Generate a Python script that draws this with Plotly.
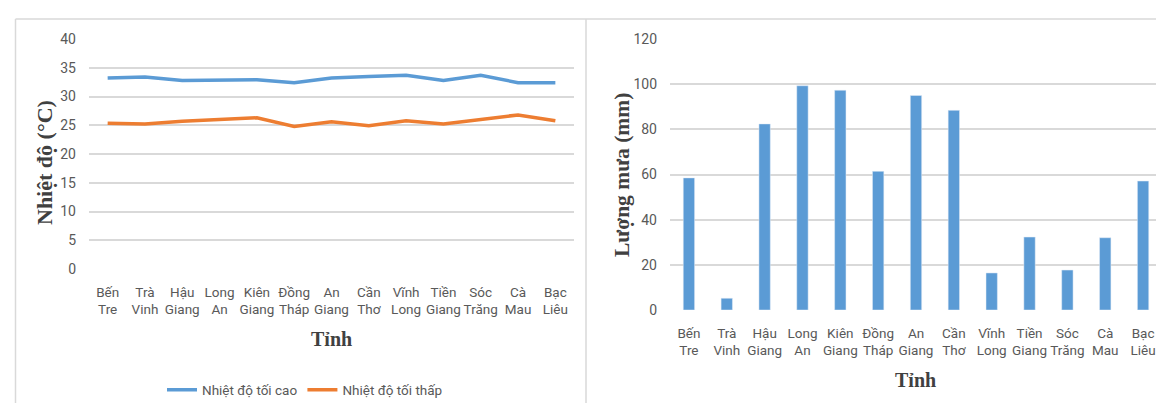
import plotly.graph_objects as go

W, H = 1164, 403

provinces = ["Bến<br>Tre", "Trà<br>Vinh", "Hậu<br>Giang", "Long<br>An", "Kiên<br>Giang",
             "Đồng<br>Tháp", "An<br>Giang", "Cần<br>Thơ", "Vĩnh<br>Long", "Tiền<br>Giang",
             "Sóc<br>Trăng", "Cà<br>Mau", "Bạc<br>Liêu"]
temp_max = [33.2, 33.4, 32.8, 32.8, 32.9, 32.4, 33.2, 33.5, 33.7, 32.8, 33.7, 32.4, 32.4]
temp_min = [25.35, 25.2, 25.7, 26.0, 26.3, 24.8, 25.6, 24.9, 25.8, 25.2, 26.0, 26.8, 25.8]
rainfall = [58.5, 5.2, 82.4, 99.3, 97.3, 61.4, 95.0, 88.4, 16.4, 32.3, 17.7, 32.0, 57.1]

blue = "#5B9BD5"
orange = "#ED7D31"
grid = "#D9D9D9"
tick_col = "#595959"
sans = "Roboto, Liberation Sans, sans-serif"
tick_font = dict(family=sans, size=13.5, color=tick_col)
ytick_font = dict(family=sans, size=14, color=tick_col)
serif = "Liberation Serif, Times New Roman, serif"
xtitle_font = dict(family=serif, size=20, color="#404040")

def px_x(x):
    return x / W

def px_y(y):
    return 1 - y / H

fig = go.Figure()

fig.add_trace(go.Scatter(x=provinces, y=temp_max, mode="lines", name="Nhiệt độ tối cao",
                         line=dict(color=blue, width=3.5), xaxis="x", yaxis="y"))
fig.add_trace(go.Scatter(x=provinces, y=temp_min, mode="lines", name="Nhiệt độ tối thấp",
                         line=dict(color=orange, width=3.5), xaxis="x", yaxis="y"))
fig.add_trace(go.Bar(x=provinces, y=rainfall, name="Lượng mưa", marker=dict(color=blue),
                     width=0.3, showlegend=False, xaxis="x2", yaxis="y2"))

fig.update_layout(
    width=W, height=H,
    margin=dict(l=0, r=0, t=0, b=0),
    paper_bgcolor="white", plot_bgcolor="white",
    xaxis=dict(domain=[px_x(81), px_x(566)], anchor="y", tickfont=tick_font,
               range=[-0.5, len(provinces) - 0.5],
               showgrid=False, showline=False, ticks="", zeroline=False, tickangle=0,
               ticklabelstandoff=13, automargin=False),
    yaxis=dict(domain=[px_y(261), px_y(31)], anchor="x", range=[0, 40], dtick=5,
               gridcolor=grid, gridwidth=1.5, zeroline=False, tickfont=ytick_font, ticks="",
               showline=False, ticklabelstandoff=12, automargin=False),
    xaxis2=dict(domain=[px_x(662), px_x(1154)], anchor="y2", tickfont=tick_font,
                range=[-0.5, len(provinces) - 0.5],
                showgrid=False, showline=False, ticks="", zeroline=False, tickangle=0,
                ticklabelstandoff=13, automargin=False),
    yaxis2=dict(domain=[px_y(302), px_y(31)], anchor="x2", range=[0, 120], dtick=20,
                gridcolor=grid, gridwidth=1.5, zeroline=False, tickfont=ytick_font, ticks="",
                showline=False, ticklabelstandoff=12, automargin=False),
    legend=dict(orientation="h", x=px_x(297), xanchor="center", y=px_y(382), yanchor="middle",
                font=dict(family=sans, size=13.5, color=tick_col), itemwidth=30),
    showlegend=True,
)

annotations = [
    dict(text="<b>Tỉnh</b>", x=px_x(323), y=px_y(331), xref="paper", yref="paper",
         showarrow=False, font=xtitle_font, xanchor="center", yanchor="middle"),
    dict(text="<b>Tỉnh</b>", x=px_x(907), y=px_y(372), xref="paper", yref="paper",
         showarrow=False, font=xtitle_font, xanchor="center", yanchor="middle"),
    dict(text="<b>Nhiệt độ (°C)</b>", x=px_x(36), y=px_y(155), xref="paper", yref="paper",
         showarrow=False, font=dict(family=serif, size=22, color="#404040"),
         textangle=-90, xanchor="center", yanchor="middle"),
    dict(text="<b>Lượng mưa (mm)</b>", x=px_x(614), y=px_y(167), xref="paper", yref="paper",
         showarrow=False, font=dict(family=serif, size=21.5, color="#404040"),
         textangle=-90, xanchor="center", yanchor="middle"),
]
fig.update_layout(annotations=annotations)

border = dict(color=grid, width=1.5)
shapes = [
    dict(type="line", xref="paper", yref="paper", x0=px_x(7.5), x1=px_x(7.5), y0=px_y(11), y1=0, line=border),
    dict(type="line", xref="paper", yref="paper", x0=px_x(7.5), x1=1, y0=px_y(11), y1=px_y(11), line=border),
    dict(type="line", xref="paper", yref="paper", x0=px_x(578), x1=px_x(578), y0=px_y(11), y1=0, line=border),
]
fig.update_layout(shapes=shapes)

fig.write_html("out.html")
